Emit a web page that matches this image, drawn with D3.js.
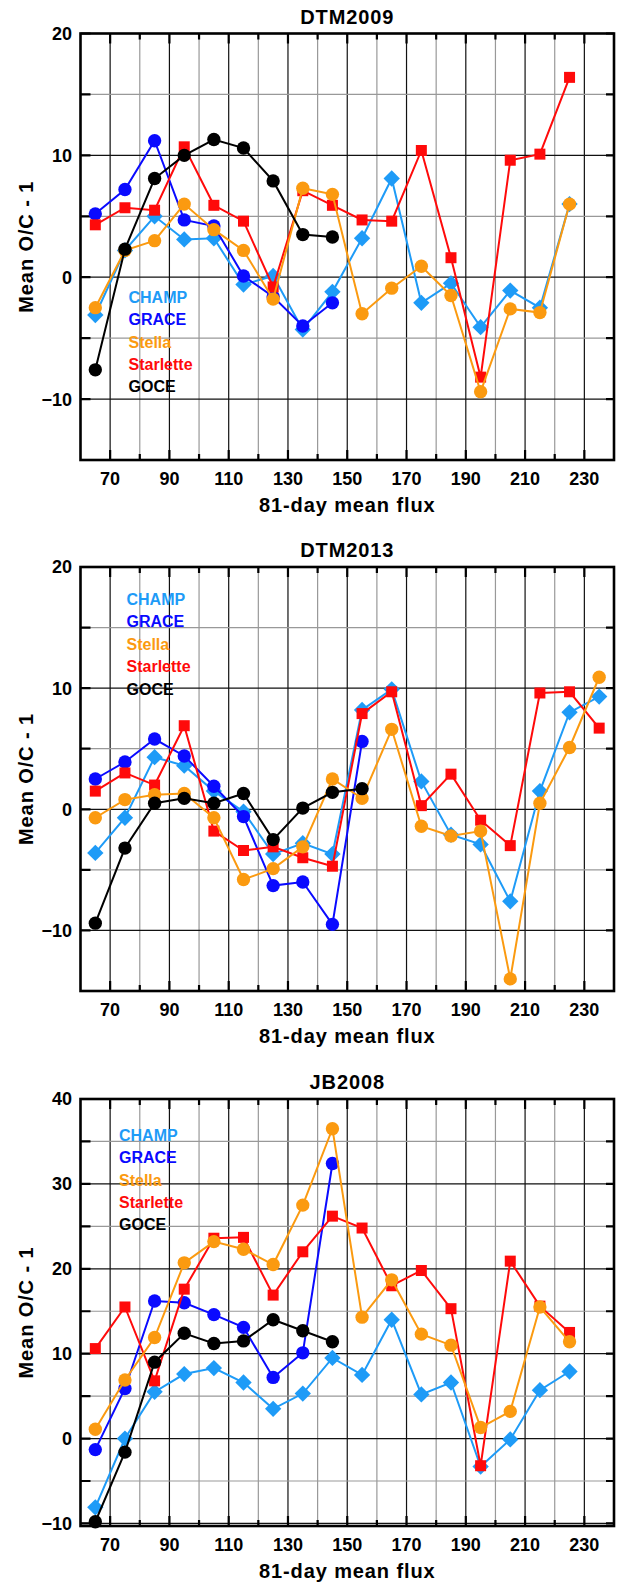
<!DOCTYPE html>
<html>
<head>
<meta charset="utf-8">
<script src="https://cdn.jsdelivr.net/npm/d3@7"></script>
<style>
  body { margin: 0; background: #fff; }
  text { font-family: "Liberation Sans", Arial, sans-serif; font-weight: bold; }
</style>
</head>
<body>
<div id="chart"></div>
<script>
var fluxBins = [65, 75, 85, 95, 105, 115, 125, 135, 145, 155, 165, 175, 185, 195, 205, 215, 225, 235];
var xTicks = [70, 90, 110, 130, 150, 170, 190, 210, 230];
var satellites = ["CHAMP", "GRACE", "Stella", "Starlette", "GOCE"];

// DTM2009
var dtm2009Champ = [-3.1, 2.2, 5.0, 3.1, 3.2, -0.6, 0.1, -4.3, -1.2, 3.2, 8.1, -2.1, -0.5, -4.1, -1.1, -2.5, 6.0];
var dtm2009Grace = [5.2, 7.2, 11.2, 4.7, 4.2, 0.1, -1.6, -4.0, -2.1];
var dtm2009Stella = [-2.5, 2.2, 3.0, 6.0, 3.9, 2.2, -1.8, 7.3, 6.8, -3.0, -0.9, 0.9, -1.5, -9.4, -2.6, -2.9, 6.0];
var dtm2009Starlette = [4.3, 5.7, 5.5, 10.7, 5.9, 4.6, -0.8, 7.1, 5.9, 4.7, 4.6, 10.4, 1.6, -8.2, 9.6, 10.1, 16.4];
var dtm2009Goce = [-7.6, 2.3, 8.1, 10.0, 11.3, 10.6, 7.9, 3.5, 3.3];

// DTM2013
var dtm2013Champ = [-3.6, -0.7, 4.3, 3.6, 1.5, -0.2, -3.7, -2.8, -3.7, 8.2, 9.9, 2.3, -2.1, -2.9, -7.6, 1.5, 8.0, 9.3];
var dtm2013Grace = [2.5, 3.9, 5.8, 4.4, 1.9, -0.6, -6.3, -6.0, -9.5, 5.6];
var dtm2013Stella = [-0.7, 0.8, 1.2, 1.3, -0.7, -5.8, -4.9, -3.1, 2.5, 0.9, 6.6, -1.4, -2.2, -1.8, -14.0, 0.5, 5.1, 10.9];
var dtm2013Starlette = [1.5, 3.0, 2.0, 6.9, -1.8, -3.4, -3.1, -4.0, -4.7, 7.9, 9.7, 0.3, 2.9, -0.9, -3.0, 9.6, 9.7, 6.7];
var dtm2013Goce = [-9.4, -3.2, 0.5, 0.9, 0.5, 1.3, -2.5, 0.1, 1.4, 1.7];

// JB2008
var jb2008Champ = [-8.1, 0.0, 5.5, 7.6, 8.3, 6.6, 3.5, 5.3, 9.5, 7.5, 14.0, 5.2, 6.6, -3.3, -0.1, 5.7, 7.9];
var jb2008Grace = [-1.3, 5.9, 16.2, 16.0, 14.6, 13.1, 7.2, 10.1, 32.4];
var jb2008Stella = [1.1, 6.9, 11.9, 20.7, 23.2, 22.3, 20.5, 27.5, 36.5, 14.3, 18.7, 12.3, 11.0, 1.3, 3.2, 15.5, 11.4];
var jb2008Starlette = [10.6, 15.5, 6.8, 17.6, 23.6, 23.7, 16.9, 22.0, 26.2, 24.8, 18.0, 19.8, 15.3, -3.2, 20.9, 15.6, 12.5];
var jb2008Goce = [-9.8, -1.6, 9.0, 12.4, 11.2, 11.5, 14.0, 12.7, 11.4];

var colors = { "CHAMP": "#1e9bf7", "GRACE": "#0a0aff", "Stella": "#fb9a10", "Starlette": "#ff0a0a", "GOCE": "#000000" };
var symbols = { "CHAMP": d3.symbolDiamond2, "GRACE": d3.symbolCircle, "Stella": d3.symbolCircle, "Starlette": d3.symbolSquare, "GOCE": d3.symbolCircle };
var symbolSize = { "CHAMP": 170, "GRACE": 140, "Stella": 140, "Starlette": 121, "GOCE": 140 };
// draw order, last on top
var drawOrder = ["CHAMP", "GRACE", "Starlette", "Stella", "GOCE"];

var width = 620, height = 1582;
var left = 80.5, right = 614;

var panels = [
  { title: "DTM2009", top: 33.5, bottom: 460, yDomain: [-15, 20], yLabels: [20, 10, 0, -10], yStep: 5,
    legend: [128.5, 302.7],
    series: { "CHAMP": dtm2009Champ, "GRACE": dtm2009Grace, "Stella": dtm2009Stella, "Starlette": dtm2009Starlette, "GOCE": dtm2009Goce } },
  { title: "DTM2013", top: 567, bottom: 991, yDomain: [-15, 20], yLabels: [20, 10, 0, -10], yStep: 5,
    legend: [126.5, 605],
    series: { "CHAMP": dtm2013Champ, "GRACE": dtm2013Grace, "Stella": dtm2013Stella, "Starlette": dtm2013Starlette, "GOCE": dtm2013Goce } },
  { title: "JB2008", top: 1099, bottom: 1526, yDomain: [-10.3, 40], yLabels: [40, 30, 20, 10, 0, -10], yStep: 5,
    legend: [119, 1140.7],
    series: { "CHAMP": jb2008Champ, "GRACE": jb2008Grace, "Stella": jb2008Stella, "Starlette": jb2008Starlette, "GOCE": jb2008Goce } }
];

var svg = d3.select("#chart").append("svg")
  .attr("width", width)
  .attr("height", height);

function fmt(v) {
  return v < 0 ? "\u2212" + Math.abs(v) : String(v);
}

function drawPanel(p) {
  var x = d3.scaleLinear().domain([60, 240]).range([left, right]);
  var y = d3.scaleLinear().domain(p.yDomain).range([p.bottom, p.top]);
  var g = svg.append("g");

  // grid, every 10 in x and every 5 in y; labelled lines darker
  var xGrid = d3.range(70, 240, 10);
  g.selectAll(".vgrid").data(xGrid).enter().append("line")
    .attr("x1", function(d) { return x(d); })
    .attr("x2", function(d) { return x(d); })
    .attr("y1", p.top).attr("y2", p.bottom)
    .attr("stroke", function(d) { return xTicks.indexOf(d) >= 0 ? "#111" : "#999"; })
    .attr("stroke-width", 1.2);

  var yGrid = d3.range(Math.ceil(p.yDomain[0] / p.yStep) * p.yStep, p.yDomain[1] + 0.1, p.yStep)
    .filter(function(d) { return y(d) > p.top + 1 && y(d) < p.bottom - 1; });
  g.selectAll(".hgrid").data(yGrid).enter().append("line")
    .attr("x1", left).attr("x2", right)
    .attr("y1", function(d) { return y(d); })
    .attr("y2", function(d) { return y(d); })
    .attr("stroke", function(d) { return p.yLabels.indexOf(d) >= 0 ? "#111" : "#999"; })
    .attr("stroke-width", 1.2);

  // inside ticks
  g.selectAll(".xt").data(xGrid).enter().append("path")
    .attr("d", function(d) {
      var len = xTicks.indexOf(d) >= 0 ? 10 : 6;
      return "M" + x(d) + "," + p.bottom + "v" + (-len) + "M" + x(d) + "," + p.top + "v" + len;
    })
    .attr("stroke", "#000").attr("stroke-width", 2.2);
  g.selectAll(".yt").data(yGrid.concat([p.yDomain[1]])).enter().append("path")
    .attr("d", function(d) {
      return "M" + left + "," + y(d) + "h10M" + right + "," + y(d) + "h-8";
    })
    .attr("stroke", "#000").attr("stroke-width", 2.2);

  // tick labels
  g.selectAll(".xl").data(xTicks).enter().append("text")
    .attr("x", function(d) { return x(d); })
    .attr("y", p.bottom + 25)
    .attr("text-anchor", "middle")
    .style("font-size", "18px")
    .text(function(d) { return d; });
  g.selectAll(".yl").data(p.yLabels).enter().append("text")
    .attr("x", 72)
    .attr("y", function(d) { return y(d); })
    .attr("dy", "0.36em")
    .attr("text-anchor", "end")
    .style("font-size", "18px")
    .text(fmt);

  // frame
  g.append("rect")
    .attr("x", left).attr("y", p.top)
    .attr("width", right - left).attr("height", p.bottom - p.top)
    .attr("fill", "none").attr("stroke", "#000").attr("stroke-width", 2.6);

  // titles
  var cx = (left + right) / 2;
  g.append("text")
    .attr("x", cx).attr("y", p.top - 10)
    .attr("text-anchor", "middle")
    .style("font-size", "20px").style("letter-spacing", "0.9px")
    .text(p.title);
  g.append("text")
    .attr("x", cx).attr("y", p.bottom + 52)
    .attr("text-anchor", "middle")
    .style("font-size", "20px").style("letter-spacing", "0.9px")
    .text("81-day mean flux");
  g.append("text")
    .attr("transform", "translate(33," + (p.top + p.bottom) / 2 + ") rotate(-90)")
    .attr("text-anchor", "middle")
    .style("font-size", "20px").style("letter-spacing", "0.9px")
    .text("Mean O/C - 1");

  // series
  var line = d3.line()
    .x(function(d) { return x(d.flux); })
    .y(function(d) { return y(d.value); });

  drawOrder.forEach(function(name) {
    var pts = p.series[name].map(function(v, i) { return { flux: fluxBins[i], value: v }; });
    var sg = g.append("g");
    sg.append("path")
      .attr("d", line(pts))
      .attr("fill", "none")
      .attr("stroke", colors[name])
      .attr("stroke-width", 2);
    sg.selectAll("path.pt").data(pts).enter().append("path")
      .attr("class", "pt")
      .attr("transform", function(d) { return "translate(" + x(d.flux) + "," + y(d.value) + ")"; })
      .attr("d", d3.symbol().type(symbols[name]).size(symbolSize[name]))
      .attr("fill", colors[name]);
  });

  // legend
  g.selectAll(".leg").data(satellites).enter().append("text")
    .attr("x", p.legend[0])
    .attr("y", function(d, i) { return p.legend[1] + i * 22.4; })
    .style("font-size", "16px")
    .attr("fill", function(d) { return colors[d]; })
    .text(function(d) { return d; });
}

panels.forEach(drawPanel);
</script>
</body>
</html>
